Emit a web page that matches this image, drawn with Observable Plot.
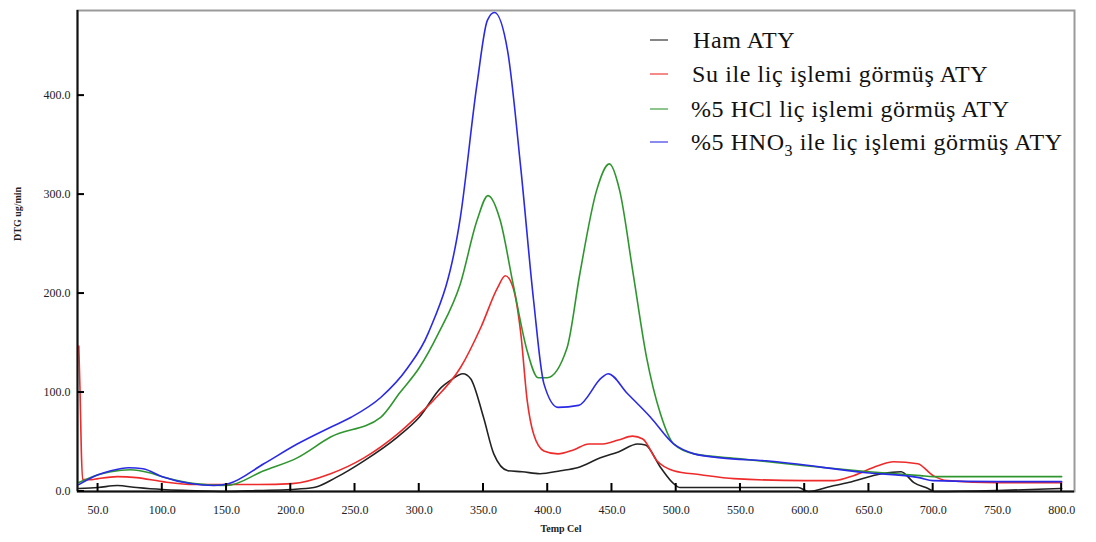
<!DOCTYPE html>
<html>
<head>
<meta charset="utf-8">
<script src="https://cdn.jsdelivr.net/npm/d3@7"></script>
<script src="https://cdn.jsdelivr.net/npm/@observablehq/plot@0.6"></script>
<style>
  html, body { margin: 0; padding: 0; background: #fff; }
  #chart { width: 1096px; height: 542px; }
</style>
</head>
<body>
<div id="chart"></div>
<script>
// DTG curves (ug/min) against temperature (°C) for four ATY samples

const seriesNames = [
  "Ham ATY",
  "Su ile liç işlemi görmüş ATY",
  "%5 HCl liç işlemi görmüş ATY",
  "%5 HNO3 ile liç işlemi görmüş ATY"
];
const seriesColors = ["#222222", "#ee2a2a", "#2f962f", "#2a2ae6"];

// Ham ATY
const tempHam = [35, 50, 65, 80, 100, 120, 150, 175, 200, 218, 235, 257, 283, 300, 317, 324, 334, 340, 350, 358, 369, 380, 394, 410, 423, 441, 455, 470, 476, 488, 498, 503, 550, 595, 603, 620, 634, 660, 675, 685, 696, 701, 750, 800];
const dtgHam  = [3, 4, 6, 4, 2, 1, 0, 1, 2, 4, 14, 31, 55, 75, 105, 112, 119, 114, 75, 38, 21, 20, 18, 21, 24, 34, 40, 48, 47, 24, 8, 4, 4, 4, 0, 5, 9, 18, 20, 9, 3, 0, 1, 3];

// Su ile liç işlemi görmüş ATY
const tempSu = [35, 36, 37, 38, 45, 50, 65, 80, 100, 125, 150, 175, 201, 231, 257, 283, 300, 311, 332, 348, 361, 367, 373, 379, 384, 389, 397, 408, 420, 432, 443, 455, 466, 474, 485, 498, 519, 545, 600, 623, 638, 657, 669, 688, 700, 711, 750, 800];
const dtgSu  = [147, 100, 40, 12, 12, 13, 15, 14, 10, 7, 7, 7, 8, 18, 34, 58, 78, 92, 125, 166, 206, 218, 206, 160, 92, 58, 41, 38, 42, 48, 48, 52, 56, 53, 31, 21, 17, 13, 11, 11, 16, 26, 30, 28, 16, 11, 9, 9];

// %5 HCl liç işlemi görmüş ATY
const tempHCl = [35, 50, 60, 75, 90, 100, 125, 150, 179, 205, 231, 270, 285, 300, 315, 332, 345, 353.5, 363, 373, 384, 392.5, 399.5, 415, 425, 438, 448, 456, 466.5, 477, 487.6, 498, 514, 550, 600, 650, 690, 700, 750, 800];
const dtgHCl  = [9, 17, 20, 22, 19, 15, 8, 6, 21, 34, 55, 75, 100, 125, 160, 210, 274, 299, 274, 210, 142, 115, 115, 145, 220, 304, 331, 304, 220, 135, 79, 48, 38, 33, 26, 20, 16, 15, 15, 15];

// %5 HNO3 ile liç işlemi görmüş ATY
const tempHNO3 = [35, 50, 60, 74, 85, 100, 122, 140, 152, 179, 205, 231, 247, 270, 291, 307, 332, 345, 353, 358.5, 368.8, 379, 389, 397, 408, 424, 442, 447, 462, 480, 498, 514, 535, 570, 648, 689, 700, 750, 800];
const dtgHNO3  = [7, 17, 21, 24, 23, 15, 8, 6, 8, 28, 48, 65, 75, 95, 125, 160, 277, 412, 476, 484, 445, 327, 193, 109, 85, 87, 115, 119, 99, 75, 48, 38, 34, 31, 19, 14, 11, 10, 10];

const xTicks = d3.range(50, 801, 50);
const yTicks = [0, 100, 200, 300, 400];

const temps = [tempHam, tempSu, tempHCl, tempHNO3];
const dtgs = [dtgHam, dtgSu, dtgHCl, dtgHNO3];
const rows = [];
temps.forEach((t, i) => t.forEach((x, j) => rows.push({series: seriesNames[i], temp: x, dtg: dtgs[i][j]})));

const fontFamily = "'Liberation Serif', 'Times New Roman', serif";
const xMin = 34;

const plot = Plot.plot({
  width: 1096,
  height: 542,
  marginLeft: 77,
  marginRight: 22,
  marginTop: 10,
  marginBottom: 51,
  style: {fontFamily, fontSize: "12px", color: "#222", background: "#fff"},
  x: {domain: [xMin, 810], label: null},
  y: {domain: [0, 486], label: null},
  color: {domain: seriesNames, range: seriesColors},
  marks: [
    Plot.frame({stroke: "#9a9a9a", strokeWidth: 2}),
    Plot.line(rows, {x: "temp", y: "dtg", z: "series", stroke: "series", strokeWidth: 1.6, curve: "monotone-x"}),
    Plot.ruleY([0], {stroke: "#111", strokeWidth: 2}),
    Plot.ruleX([xMin], {stroke: "#111", strokeWidth: 2}),
    Plot.axisX({ticks: xTicks, tickFormat: d => d.toFixed(1), tickSize: 0, tickPadding: 14}),
    Plot.axisY({ticks: yTicks, tickFormat: d => d.toFixed(1), tickSize: 0, tickPadding: 7}),
    Plot.text(["Temp Cel"], {frameAnchor: "bottom", dx: -15, dy: 40, fontWeight: "bold", fontSize: 10}),
    Plot.text(["DTG ug/min"], {frameAnchor: "left", dx: -60, dy: -10, rotate: -90, fontWeight: "bold", fontSize: 10})
  ]
});

const svg = d3.select(plot);
const sx = plot.scale("x");
const sy = plot.scale("y");

// Short tick marks pointing into the plot area, placed with the plot's own scales
const tickGroup = svg.append("g");
const x0 = sx.apply(xMin);
const y0 = sy.apply(0);
xTicks.forEach(t => {
  const px = sx.apply(t);
  tickGroup.append("line")
    .attr("x1", px).attr("x2", px).attr("y1", y0).attr("y2", y0 - 8)
    .attr("stroke", "#000").attr("stroke-width", 2);
});
yTicks.forEach(t => {
  const py = sy.apply(t);
  tickGroup.append("line")
    .attr("x1", x0).attr("x2", x0 + 7).attr("y1", py).attr("y2", py)
    .attr("stroke", "#000").attr("stroke-width", 2);
});

// Legend in the upper right of the plot area
const legend = svg.append("g")
  .attr("font-family", fontFamily)
  .attr("font-size", 24)
  .attr("letter-spacing", 0.6)
  .attr("fill", "#111")
  .attr("text-anchor", "start");
const legendY = [40, 74, 109, 142];
const legendX = [693, 692, 691, 691];
seriesNames.forEach((name, i) => {
  const g = legend.append("g").attr("transform", `translate(0,${legendY[i]})`);
  g.append("line").attr("x1", 650).attr("x2", 668).attr("y1", 0).attr("y2", 0)
    .attr("stroke", seriesColors[i]).attr("stroke-opacity", 0.55).attr("stroke-width", 2);
  const t = g.append("text").attr("x", legendX[i]).attr("y", 8).attr("text-anchor", "start");
  if (name.includes("HNO3")) {
    t.append("tspan").text("%5 HNO");
    t.append("tspan").attr("font-size", 16).attr("dy", 6).text("3");
    t.append("tspan").attr("dy", -6).text(" ile liç işlemi görmüş ATY");
  } else {
    t.text(name);
  }
});

document.getElementById("chart").appendChild(plot);
</script>
</body>
</html>
